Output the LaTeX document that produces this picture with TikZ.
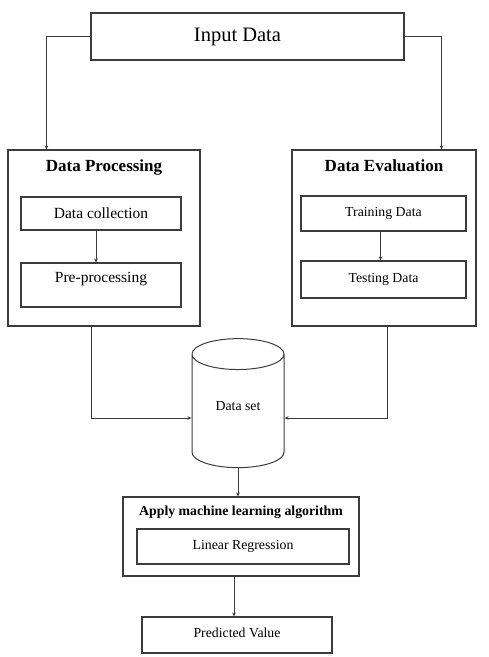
\documentclass[tikz,border=0pt]{standalone}
\usepackage{fontspec}
\setmainfont{Liberation Serif}
\usetikzlibrary{arrows.meta,shapes.geometric}
\definecolor{linegray}{RGB}{60,60,60}
\tikzset{
  box/.style={draw=linegray,line width=1.1pt,rectangle,inner sep=0pt,align=center},
  title/.style={font=\fontsize{17}{20}\selectfont\bfseries},
  arr/.style={draw=linegray,line width=0.8pt,-{Stealth[length=4pt,width=3.5pt]}}
}
\begin{document}
\begin{tikzpicture}[x=1pt,y=-1pt]
    \useasboundingbox (0,0) rectangle (489,657);
          % top
          \node[box,minimum width=313,minimum height=47,font=\fontsize{20.5}{24}\selectfont] (input) at (247.5,36.5) {\hspace*{-20pt}Input Data};
          % left block
          \node[box,minimum width=192,minimum height=176] (dp) at (104,238) {};
          \node[title] (dptitle) at (104,167) {Data Processing};
          \node[box,minimum width=160,minimum height=33,font=\fontsize{15.5}{18}\selectfont] (dc) at (101,213.5) {Data collection};
          \node[box,minimum width=160,minimum height=44,font=\fontsize{15.5}{18}\selectfont] (pp) at (101,285) {\raisebox{15pt}{Pre-processing}};
          % right block
          \node[box,minimum width=184,minimum height=176] (de) at (384,238) {};
          \node[title] (detitle) at (384,166) {Data Evaluation};
          \node[box,minimum width=165,minimum height=35,font=\fontsize{13.8}{16}\selectfont] (td) at (383.5,213.5) {\raisebox{4pt}{Training Data}};
          \node[box,minimum width=165,minimum height=37,font=\fontsize{13.8}{16}\selectfont] (ts) at (383.5,279.5) {\raisebox{4pt}{Testing Data}};
          % data set
          \node[draw=linegray,line width=1pt,cylinder,shape border rotate=90,aspect=0.6,minimum width=92,minimum height=129,font=\fontsize{13.8}{16}\selectfont] (ds) at (238,414) {\raisebox{17pt}{Data set}};
          % bottom
          \node[box,minimum width=236,minimum height=79] (ml) at (241,536.5) {};
          \node[font=\fontsize{13.8}{16}\selectfont\bfseries] (mltitle) at (241,512) {Apply machine learning algorithm};
          \node[box,minimum width=212,minimum height=35,font=\fontsize{13.8}{16}\selectfont] (lr) at (243,546.5) {\raisebox{4pt}{Linear Regression}};
          \node[box,minimum width=190,minimum height=36,font=\fontsize{13.8}{16}\selectfont] (pv) at (237,635) {\raisebox{4pt}{Predicted Value}};
          % connectors
          \draw[arr] (input.west) -| ([xshift=39]dp.north west);
          \draw[arr] (input.east) -| ([xshift=-35]de.north east);
          \draw[arr] ([xshift=-5]dc.south) -- ([xshift=-5]pp.north);
          \draw[arr] ([xshift=-3]td.south) -- ([xshift=-3]ts.north);
          \draw[arr] ([xshift=-13]dp.south) |- ([yshift=-4]ds.west);
          \draw[arr] ([xshift=3]de.south) |- ([yshift=-4]ds.east);
          \draw[arr] (ds.south) -- (ds.south |- ml.north);
          \draw[arr] ([xshift=-7]ml.south) -- ([xshift=-7]ml.south |- pv.north);
        \end{tikzpicture}
\end{document}
